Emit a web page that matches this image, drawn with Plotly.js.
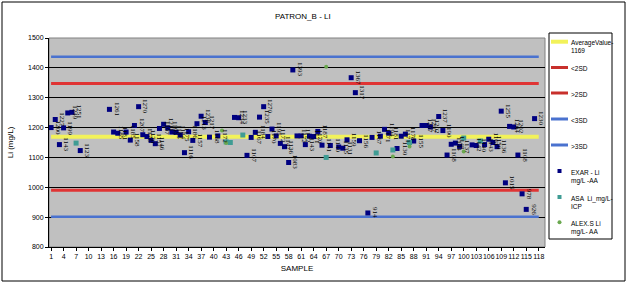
<!DOCTYPE html>
<html>
<head>
<meta charset="utf-8">
<script src="https://cdn.plot.ly/plotly-3.0.1.min.js"></script>
<style>html,body{margin:0;padding:0;background:#fff;}#chart{width:627px;height:284px;}</style>
</head>
<body>
<div id="chart"></div>
<script>
// ---- data ----
const samples = Array.from({length: 118}, (_, i) => i + 1);
const xTickLabels = [1,4,7,10,13,16,19,22,25,28,31,34,37,40,43,46,49,52,55,58,61,64,67,70,73,76,79,82,85,88,91,94,97,100,103,106,109,112,115,118];

const exarLi = [
  1200,1227,1143,1199,1249,1251,null,1123,null,null,
  null,null,null,null,1261,1185,1181,null,1185,1158,
  1207,1270,1176,1170,1157,1146,1197,1211,1199,1185,
  1184,1175,1116,1186,1157,1213,1238,1217,1168,null,
  1172,null,null,null,1234,1233,null,1107,1167,1184,
  1235,1270,1170,1195,1172,1147,1136,1083,1393,1172,
  1172,1143,1171,1170,1187,1141,null,1140,null,1135,
  1131,1159,1367,1317,1156,null,914,1167,null,1171,
  1194,1181,null,1130,1171,1178,null,1155,null,1207,
  1207,1202,null,1237,1190,1108,1144,1148,1137,null,
  null,1142,1140,null,1143,1161,1150,1136,1255,1015,
  1204,1202,1108,978,926,null,1230,null
];
const asaSamples = [7,43,44,47,67,79,83,87,100,104];
const asaLi      = [1148,1152,1150,1175,1100,1115,1125,1150,1165,1155];
const alexSamples = [42,43,67,83,87,100];
const alexLi      = [1190,1148,1404,1103,1137,1120];

const averageValue = 1169;
const lower2SD = 990;
const upper2SD = 1348;
const lower3SD = 901;
const upper3SD = 1437;

const legendLabels = ['AverageValue-<br>' + averageValue, '&lt;2SD', '&gt;2SD', '&lt;3SD', '&gt;3SD',
                      'EXAR - Li<br>mg/L -AA', 'ASA  Li_mg/L-<br>ICP', 'ALEX.S Li<br>mg/L- AA'];

// ---- styles ----
const C = {avg: '#f2f25a', red: '#e03434', blue: '#4a72cf', exar: '#000080', asa: '#3f9c94', alex: '#6aa84f'};
const W = 627, H = 284, M = {l: 49, r: 82, t: 38, b: 37};
const PW = W - M.l - M.r, PH = H - M.t - M.b;
const px = v => (v - M.l) / PW;        // pixel -> paper x
const py = v => (H - M.b - v) / PH;    // pixel -> paper y

// ---- traces ----
const first = samples[0], last = samples[samples.length - 1];
function refLine(v, name, color, width) {
  return {x: [first, last], y: [v, v], mode: 'lines', name: name, showlegend: false,
          line: {color: color, width: width}, hoverinfo: 'skip'};
}
const traces = [
  refLine(averageValue, legendLabels[0], C.avg, 4),
  refLine(lower2SD, legendLabels[1], C.red, 3),
  refLine(upper2SD, legendLabels[2], C.red, 3),
  refLine(lower3SD, legendLabels[3], C.blue, 2.5),
  refLine(upper3SD, legendLabels[4], C.blue, 2.5),
  {x: samples, y: exarLi, mode: 'markers', name: legendLabels[5], showlegend: false,
   marker: {symbol: 'square', size: 5, color: C.exar}},
  {x: asaSamples, y: asaLi, mode: 'markers', name: legendLabels[6], showlegend: false,
   marker: {symbol: 'square', size: 5, color: C.asa}},
  {x: alexSamples, y: alexLi, mode: 'markers', name: legendLabels[7], showlegend: false,
   marker: {symbol: 'circle', size: 4, color: C.alex}}
];

// data labels (rotated values) for EXAR points
const annotations = [];
samples.forEach((s, i) => {
  const v = exarLi[i];
  if (v === null) return;
  annotations.push({x: s, y: v, xref: 'x', yref: 'y', text: String(v), showarrow: false,
    textangle: 90, xshift: 7, xanchor: 'center', yanchor: 'middle',
    font: {family: 'Liberation Serif, serif', size: 7, color: '#000'}});
});

// ---- legend (drawn as a framed key to the right of the plot) ----
const shapes = [
  {type: 'rect', xref: 'paper', yref: 'paper', x0: 0, x1: 1, y0: 0, y1: 1,
   line: {color: '#808080', width: 1}, fillcolor: 'rgba(0,0,0,0)', layer: 'below'},
  {type: 'rect', xref: 'paper', yref: 'paper', x0: px(2), x1: px(625), y0: py(281), y1: py(2),
   line: {color: '#000', width: 1}, fillcolor: 'rgba(0,0,0,0)'},
  {type: 'rect', xref: 'paper', yref: 'paper', x0: px(549), x1: px(612), y0: py(239), y1: py(33),
   line: {color: '#000', width: 1}, fillcolor: '#ffffff'}
];
const keyRows = [41.7, 67.5, 93, 119, 145, 171, 197, 222.3];
const keyLines = [[C.avg, 4], ['#c8302c', 3], ['#c8302c', 3], [C.blue, 3], [C.blue, 3]];
keyLines.forEach((k, i) => {
  shapes.push({type: 'line', xref: 'paper', yref: 'paper', x0: px(551), x1: px(568),
               y0: py(keyRows[i]), y1: py(keyRows[i]), line: {color: k[0], width: k[1]}});
});
const keyMarks = [[C.exar, 'rect'], [C.asa, 'rect'], [C.alex, 'circle']];
keyMarks.forEach((k, j) => {
  const r = keyRows[5 + j], cx = 559.5;
  shapes.push({type: k[1], xref: 'paper', yref: 'paper', x0: px(cx - 2), x1: px(cx + 2),
               y0: py(r + 2), y1: py(r - 2), line: {width: 0}, fillcolor: k[0]});
});
legendLabels.forEach((t, i) => {
  annotations.push({xref: 'paper', yref: 'paper', x: px(569), y: py(keyRows[i] - 4.5), text: t,
    showarrow: false, xanchor: 'left', yanchor: 'top', align: 'left',
    font: {family: 'Liberation Sans, Arial, sans-serif', size: 6.5, color: '#000'}});
});

const layout = {
  width: W, height: H,
  margin: {l: M.l, r: M.r, t: M.t, b: M.b, pad: 0},
  paper_bgcolor: '#ffffff',
  plot_bgcolor: '#c0c0c0',
  font: {family: 'Liberation Sans, Arial, sans-serif', size: 7, color: '#000'},
  title: {text: 'PATRON_B - LI', x: 0.483, xref: 'container', xanchor: 'center',
          y: 0.944, yref: 'container', yanchor: 'middle',
          font: {family: 'Liberation Sans, Arial, sans-serif', size: 8, color: '#000'}},
  showlegend: false,
  xaxis: {range: [0.5, 119.5], tickmode: 'array', tickvals: xTickLabels, ticktext: xTickLabels.map(String),
          showgrid: false, zeroline: false, showline: true, linecolor: '#000', linewidth: 1,
          ticks: 'outside', ticklen: 3, tickcolor: '#000', tickangle: 0,
          tickfont: {size: 7}, title: {text: 'SAMPLE', standoff: 5, font: {size: 8}}},
  yaxis: {range: [800, 1500], dtick: 100, tick0: 800, showgrid: true, gridcolor: '#000', gridwidth: 1,
          zeroline: false, showline: true, linecolor: '#000', linewidth: 1,
          ticks: 'outside', ticklen: 3, tickcolor: '#000',
          tickfont: {size: 7}, title: {text: 'Li (mg/L)', standoff: 13, font: {size: 8}}},
  shapes: shapes,
  annotations: annotations
};

Plotly.newPlot('chart', traces, layout, {displayModeBar: false, staticPlot: true});
</script>
</body>
</html>
